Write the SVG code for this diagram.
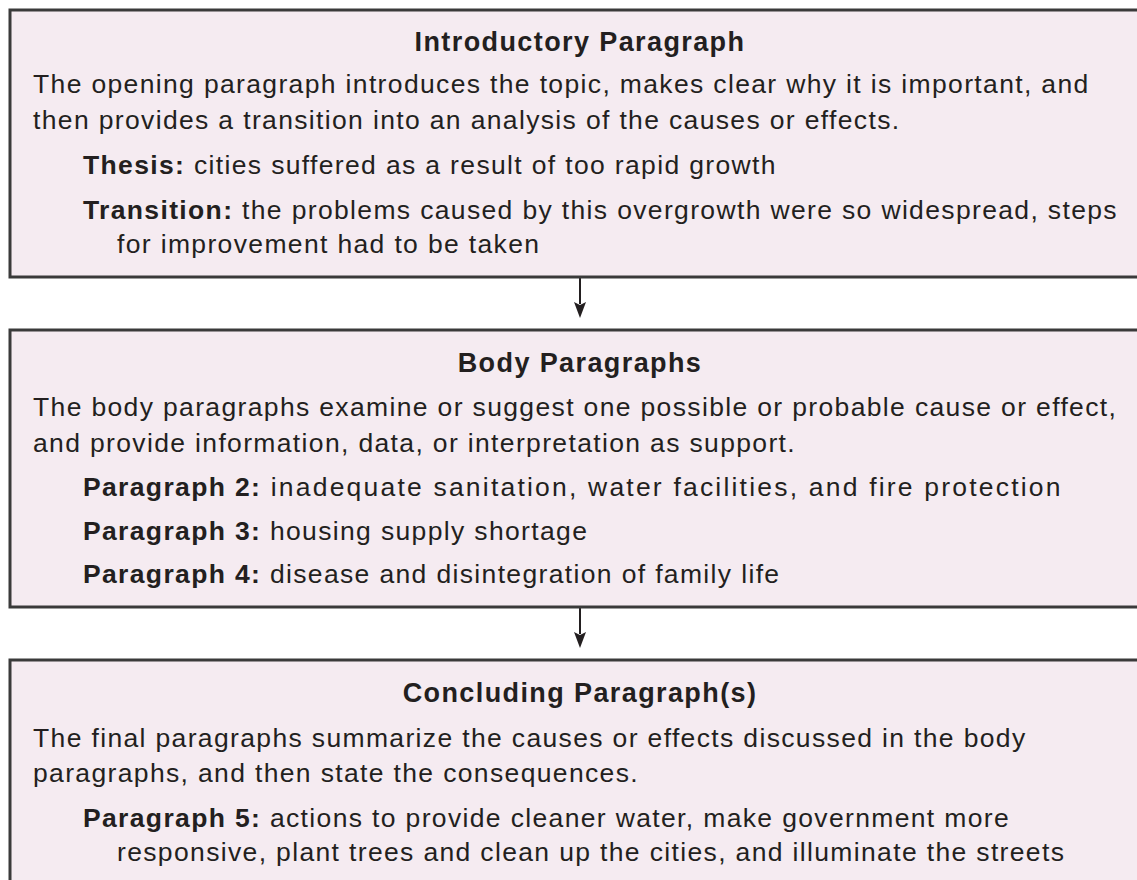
<svg xmlns="http://www.w3.org/2000/svg" width="1137" height="880" viewBox="0 0 1137 880">
<defs>
<style>
.box{fill:#f5ebf1;stroke:#3a3a3a;stroke-width:3}
.t{font-family:"Liberation Sans",Arial,sans-serif;font-size:26.5px;letter-spacing:1.35px;fill:#231f20}
.h{font-weight:bold;text-anchor:middle;font-size:27px;letter-spacing:1.4px}
.b{font-weight:bold}
.wide{letter-spacing:2.2px}
.conn{stroke:#231f20;stroke-width:2;fill:none}
.head{fill:#231f20}
</style>
</defs>
<rect width="1137" height="880" fill="#ffffff"/>
<g id="connectors">
<line class="conn" x1="580" y1="278" x2="580" y2="304"/>
<path class="head" d="M574,302 L580,305 L586,302 L580,318 Z"/>
<line class="conn" x1="580" y1="608" x2="580" y2="634"/>
<path class="head" d="M574,632 L580,635 L586,632 L580,648 Z"/>
</g>
<g id="intro">
<rect class="box" x="10" y="10" width="1140" height="267"/>
<text class="t h" x="580" y="51">Introductory Paragraph</text>
<text class="t" x="33" y="93">The opening paragraph introduces the topic, makes clear why it is important, and</text>
<text class="t" x="33" y="129">then provides a transition into an analysis of the causes or effects.</text>
<text class="t" x="83" y="174"><tspan class="b">Thesis:</tspan> cities suffered as a result of too rapid growth</text>
<text class="t" x="83" y="219"><tspan class="b">Transition:</tspan> the problems caused by this overgrowth were so widespread, steps</text>
<text class="t" x="117" y="253">for improvement had to be taken</text>
</g>
<g id="body">
<rect class="box" x="10" y="330" width="1140" height="277"/>
<text class="t h" x="580" y="372">Body Paragraphs</text>
<text class="t" x="33" y="416">The body paragraphs examine or suggest one possible or probable cause or effect,</text>
<text class="t" x="33" y="452">and provide information, data, or interpretation as support.</text>
<text class="t" x="83" y="496"><tspan class="b">Paragraph 2:</tspan><tspan class="wide"> inadequate sanitation, water facilities, and fire protection</tspan></text>
<text class="t" x="83" y="540"><tspan class="b">Paragraph 3:</tspan> housing supply shortage</text>
<text class="t" x="83" y="583"><tspan class="b">Paragraph 4:</tspan> disease and disintegration of family life</text>
</g>
<g id="conclusion">
<rect class="box" x="10" y="660" width="1140" height="240"/>
<text class="t h" x="580" y="702">Concluding Paragraph(s)</text>
<text class="t" x="33" y="747">The final paragraphs summarize the causes or effects discussed in the body</text>
<text class="t" x="33" y="782">paragraphs, and then state the consequences.</text>
<text class="t" x="83" y="827"><tspan class="b">Paragraph 5:</tspan> actions to provide cleaner water, make government more</text>
<text class="t" x="117" y="861">responsive, plant trees and clean up the cities, and illuminate the streets</text>
</g>
</svg>
